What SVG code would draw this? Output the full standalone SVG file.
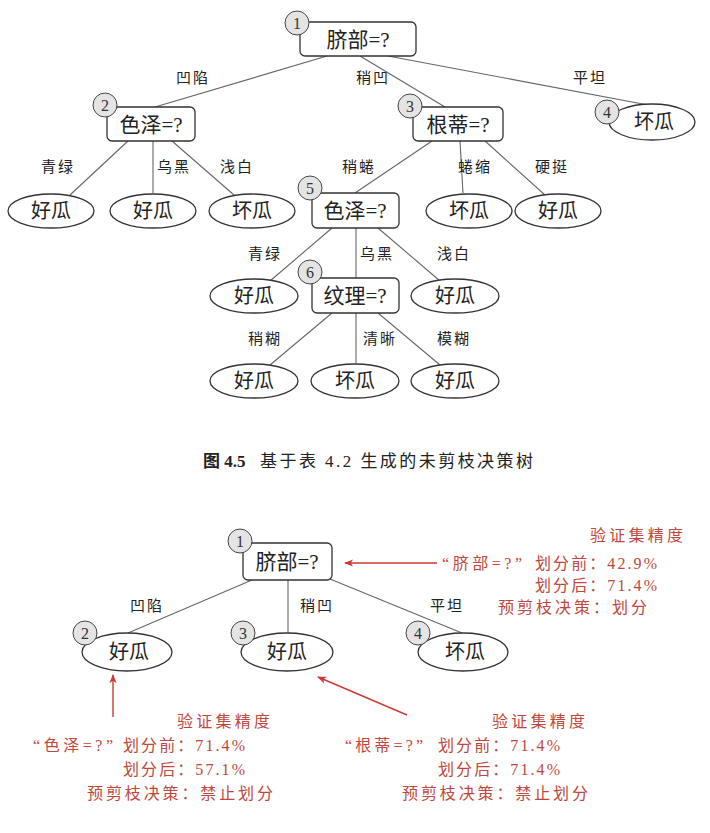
<svg xmlns="http://www.w3.org/2000/svg" width="710" height="833" viewBox="0 0 710 833">
<defs>
<marker id="ah" viewBox="0 0 10 10" refX="9" refY="5" markerWidth="9" markerHeight="9" markerUnits="userSpaceOnUse" orient="auto">
<path d="M0,1 L10,5 L0,9 L2.5,5 Z" fill="#cc3b33"/>
</marker>
<style>
.box{fill:#fff;stroke:#333;stroke-width:1.3}
.leaf{fill:#fff;stroke:#333;stroke-width:1.3}
.num{fill:#e4e4e4;stroke:#444;stroke-width:1}
.numt{font-family:"Liberation Serif","Noto Sans CJK SC",serif;font-size:16px;fill:#333;text-anchor:middle}
.nt{font-family:"Liberation Serif","Noto Sans CJK SC",serif;font-size:21px;fill:#222;text-anchor:middle}
.lt{font-family:"Liberation Serif","Noto Sans CJK SC",serif;font-size:20px;fill:#222;text-anchor:middle}
.el{font-family:"Liberation Serif","Noto Sans CJK SC",serif;font-size:15px;fill:#222;text-anchor:middle;letter-spacing:2px}
.edge{stroke:#666;stroke-width:1.1;fill:none}
.red{font-family:"Liberation Serif","Noto Sans CJK SC",serif;font-size:16px;fill:#c0473d}
.arr{stroke:#cc3b33;stroke-width:1.4;fill:none}
.cap{font-family:"Liberation Serif","Noto Sans CJK SC",serif;font-size:17px;fill:#222}
</style>
</defs>

<!-- ===== Top tree connectors ===== -->
<g id="connectors-top">
<line class="edge" x1="327" y1="56" x2="155" y2="107"/>
<line class="edge" x1="360" y1="56" x2="445" y2="107"/>
<line class="edge" x1="388" y1="56" x2="648" y2="105"/>
<line class="edge" x1="128" y1="141" x2="70" y2="195"/>
<line class="edge" x1="153" y1="141" x2="153" y2="193"/>
<line class="edge" x1="172" y1="141" x2="234" y2="195"/>
<line class="edge" x1="432" y1="141" x2="355" y2="193"/>
<line class="edge" x1="460" y1="141" x2="463" y2="193"/>
<line class="edge" x1="485" y1="141" x2="545" y2="195"/>
<line class="edge" x1="332" y1="228" x2="270" y2="281"/>
<line class="edge" x1="356" y1="228" x2="356" y2="278"/>
<line class="edge" x1="378" y1="228" x2="440" y2="281"/>
<line class="edge" x1="332" y1="313" x2="270" y2="365"/>
<line class="edge" x1="356" y1="313" x2="356" y2="363"/>
<line class="edge" x1="378" y1="313" x2="440" y2="365"/>
</g>
<g id="edge-labels-top">
<text class="el" x="193" y="83">凹陷</text>
<text class="el" x="373" y="83">稍凹</text>
<text class="el" x="590" y="83">平坦</text>
<text class="el" x="58" y="172">青绿</text>
<text class="el" x="174" y="172">乌黑</text>
<text class="el" x="237" y="172">浅白</text>
<text class="el" x="359" y="172">稍蜷</text>
<text class="el" x="475" y="172">蜷缩</text>
<text class="el" x="552" y="172">硬挺</text>
<text class="el" x="265" y="259">青绿</text>
<text class="el" x="377" y="259">乌黑</text>
<text class="el" x="454" y="259">浅白</text>
<text class="el" x="265" y="344">稍糊</text>
<text class="el" x="380" y="344">清晰</text>
<text class="el" x="454" y="344">模糊</text>
</g>

<!-- ===== Top tree nodes ===== -->
<g id="t-n1">
<rect class="box" x="300" y="22" width="116" height="34" rx="5"/>
<text class="nt" x="358" y="47">脐部=?</text>
<circle class="num" cx="297" cy="23" r="12"/>
<text class="numt" x="297" y="29">1</text>
</g>
<g id="t-n2">
<rect class="box" x="107" y="107" width="88" height="34" rx="5"/>
<text class="nt" x="151" y="132">色泽=?</text>
<circle class="num" cx="105" cy="105" r="12"/>
<text class="numt" x="105" y="111">2</text>
</g>
<g id="t-n3">
<rect class="box" x="413" y="107" width="90" height="34" rx="5"/>
<text class="nt" x="458" y="132">根蒂=?</text>
<circle class="num" cx="410" cy="106" r="12"/>
<text class="numt" x="410" y="112">3</text>
</g>
<g id="t-n4">
<ellipse class="leaf" cx="652" cy="122" rx="43" ry="18"/>
<text class="lt" x="654" y="129">坏瓜</text>
<circle class="num" cx="607" cy="112" r="12"/>
<text class="numt" x="607" y="118">4</text>
</g>
<g id="t-l1"><ellipse class="leaf" cx="51" cy="211" rx="43" ry="17"/><text class="lt" x="51" y="218">好瓜</text></g>
<g id="t-l2"><ellipse class="leaf" cx="153" cy="211" rx="43" ry="17"/><text class="lt" x="153" y="218">好瓜</text></g>
<g id="t-l3"><ellipse class="leaf" cx="252" cy="211" rx="43" ry="17"/><text class="lt" x="252" y="218">坏瓜</text></g>
<g id="t-n5">
<rect class="box" x="312" y="193" width="87" height="35" rx="5"/>
<text class="nt" x="355" y="218">色泽=?</text>
<circle class="num" cx="310" cy="188" r="12"/>
<text class="numt" x="310" y="194">5</text>
</g>
<g id="t-l4"><ellipse class="leaf" cx="469" cy="211" rx="43" ry="17"/><text class="lt" x="469" y="218">坏瓜</text></g>
<g id="t-l5"><ellipse class="leaf" cx="558" cy="211" rx="43" ry="17"/><text class="lt" x="558" y="218">好瓜</text></g>
<g id="t-l6"><ellipse class="leaf" cx="254" cy="296" rx="44" ry="17"/><text class="lt" x="254" y="303">好瓜</text></g>
<g id="t-n6">
<rect class="box" x="312" y="278" width="87" height="35" rx="5"/>
<text class="nt" x="355" y="303">纹理=?</text>
<circle class="num" cx="310" cy="272" r="12"/>
<text class="numt" x="310" y="278">6</text>
</g>
<g id="t-l7"><ellipse class="leaf" cx="455" cy="296" rx="44" ry="17"/><text class="lt" x="455" y="303">好瓜</text></g>
<g id="t-l8"><ellipse class="leaf" cx="254" cy="381" rx="44" ry="17"/><text class="lt" x="254" y="388">好瓜</text></g>
<g id="t-l9"><ellipse class="leaf" cx="355" cy="381" rx="44" ry="17"/><text class="lt" x="355" y="388">坏瓜</text></g>
<g id="t-l10"><ellipse class="leaf" cx="455" cy="381" rx="44" ry="17"/><text class="lt" x="455" y="388">好瓜</text></g>

<!-- ===== Caption ===== -->
<g id="caption">
<text class="cap" x="203" y="467" font-weight="bold">图 4.5</text>
<text class="cap" x="260" y="467" textLength="273" lengthAdjust="spacing">基于表 4.2 生成的未剪枝决策树</text>
</g>

<!-- ===== Bottom tree connectors ===== -->
<g id="connectors-bottom">
<line class="edge" x1="252" y1="580" x2="128" y2="633"/>
<line class="edge" x1="288" y1="580" x2="288" y2="633"/>
<line class="edge" x1="330" y1="579" x2="462" y2="633"/>
</g>
<g id="edge-labels-bottom">
<text class="el" x="147" y="611">凹陷</text>
<text class="el" x="317" y="611">稍凹</text>
<text class="el" x="447" y="611">平坦</text>
</g>

<g id="b-n1">
<rect class="box" x="243" y="543" width="89" height="37" rx="5"/>
<text class="nt" x="287" y="569">脐部=?</text>
<circle class="num" cx="240" cy="541" r="12"/>
<text class="numt" x="240" y="547">1</text>
</g>
<g id="b-n2">
<ellipse class="leaf" cx="127" cy="652" rx="45" ry="19"/>
<text class="lt" x="129" y="659">好瓜</text>
<circle class="num" cx="85" cy="633" r="12"/>
<text class="numt" x="85" y="639">2</text>
</g>
<g id="b-n3">
<ellipse class="leaf" cx="287" cy="652" rx="46" ry="19"/>
<text class="lt" x="287" y="659">好瓜</text>
<circle class="num" cx="243" cy="633" r="12"/>
<text class="numt" x="243" y="639">3</text>
</g>
<g id="b-n4">
<ellipse class="leaf" cx="463" cy="652" rx="45" ry="19"/>
<text class="lt" x="465" y="659">坏瓜</text>
<circle class="num" cx="418" cy="633" r="12"/>
<text class="numt" x="418" y="639">4</text>
</g>

<!-- ===== Annotation arrows ===== -->
<g id="annot-arrows">
<line class="arr" x1="437" y1="563" x2="345" y2="563" marker-end="url(#ah)"/>
<line class="arr" x1="113" y1="717" x2="113" y2="675" marker-end="url(#ah)"/>
<line class="arr" x1="407" y1="715" x2="318" y2="677" marker-end="url(#ah)"/>
</g>

<!-- ===== Annotation texts ===== -->
<g id="annot-root">
<text class="red" x="590" y="541" textLength="93" lengthAdjust="spacing">验证集精度</text>
<text class="red" x="442" y="569" textLength="80" lengthAdjust="spacing">“脐部=?”</text>
<text class="red" x="535" y="569" textLength="122" lengthAdjust="spacing">划分前：42.9%</text>
<text class="red" x="535" y="591" textLength="122" lengthAdjust="spacing">划分后：71.4%</text>
<text class="red" x="498" y="613" textLength="149" lengthAdjust="spacing">预剪枝决策：划分</text>
</g>
<g id="annot-left">
<text class="red" x="177" y="727" textLength="93" lengthAdjust="spacing">验证集精度</text>
<text class="red" x="33" y="751" textLength="80" lengthAdjust="spacing">“色泽=?”</text>
<text class="red" x="123" y="751" textLength="122" lengthAdjust="spacing">划分前：71.4%</text>
<text class="red" x="123" y="775" textLength="122" lengthAdjust="spacing">划分后：57.1%</text>
<text class="red" x="87" y="799" textLength="186" lengthAdjust="spacing">预剪枝决策：禁止划分</text>
</g>
<g id="annot-right">
<text class="red" x="492" y="727" textLength="93" lengthAdjust="spacing">验证集精度</text>
<text class="red" x="345" y="751" textLength="78" lengthAdjust="spacing">“根蒂=?”</text>
<text class="red" x="438" y="751" textLength="122" lengthAdjust="spacing">划分前：71.4%</text>
<text class="red" x="438" y="775" textLength="122" lengthAdjust="spacing">划分后：71.4%</text>
<text class="red" x="402" y="799" textLength="186" lengthAdjust="spacing">预剪枝决策：禁止划分</text>
</g>
</svg>
